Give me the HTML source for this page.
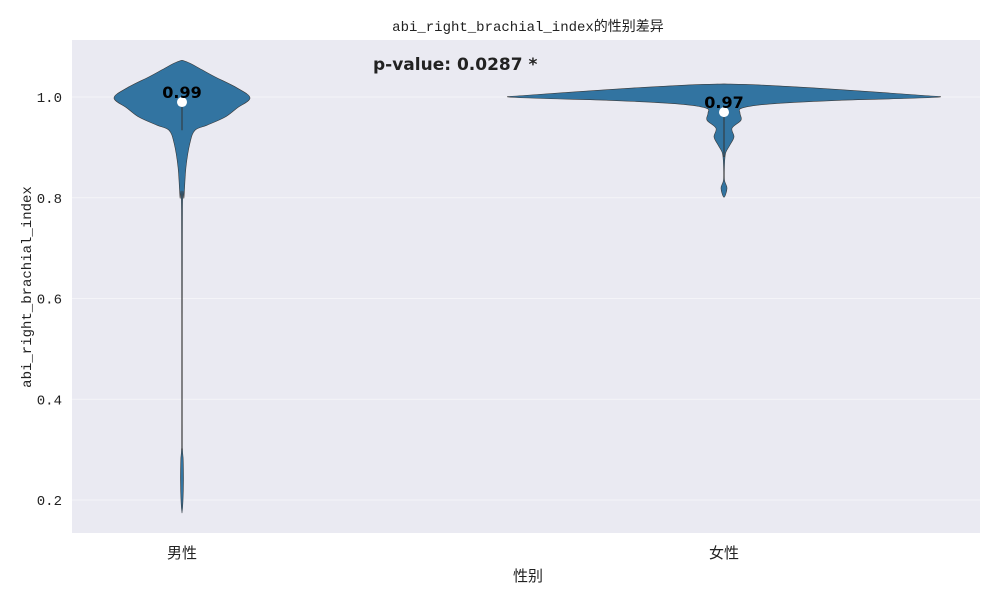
<!DOCTYPE html>
<html><head><meta charset="utf-8"><style>
body{margin:0;background:#fff;font-family:"Liberation Sans","Noto Sans CJK SC",sans-serif}
svg text{font-family:"WenQuanYi Zen Hei Mono","WenQuanYi Zen Hei","Liberation Mono",monospace}
svg text.bold{font-family:"DejaVu Sans",sans-serif}
</style></head><body>
<svg id="chart" width="1000" height="600" xmlns="http://www.w3.org/2000/svg">
<rect x="72" y="40" width="908" height="493" fill="#eaeaf2"/>
<g id="grid"></g><g id="violins"></g><g id="labels"></g>
<text x="528" y="31" text-anchor="middle" font-size="14" fill="#222">abi_right_brachial_index的性别差异</text>
<text class="bold" x="373" y="70" font-size="17" font-weight="bold" fill="#222">p-value: 0.0287 *</text>
<text x="528" y="581" text-anchor="middle" font-size="15" fill="#222">性别</text>
<text transform="translate(31,287) rotate(-90)" text-anchor="middle" font-size="14" fill="#222">abi_right_brachial_index</text>
</svg>
<script>
const categories=["男性","女性"];
const medians=[0.99,0.97];
const whiskerLow=[0.934,0.881];
const yTicks=[0.2,0.4,0.6,0.8,1.0];
const maleVals=[1.073,1.067,1.054,1.040,1.018,0.998,0.978,0.960,0.944,0.934,0.909,0.861,0.801,0.776,0.35,0.30,0.28,0.24,0.20,0.174];
const maleWidth=[0,8,20,33,55,68,55,43,25,13,8,4,2,0.5,0.3,0.5,1.2,1.5,1,0];
const femaleVals=[1.026,1.024,1.018,1.010,1.003,1.000,0.997,0.993,0.986,0.978,0.968,0.954,0.938,0.921,0.905,0.891,0.881,0.865,0.835,0.819,0.801];
const femaleWidth=[0,35,90,150,200,216,180,110,45,18,16,17,8,10,6,2,1,0.5,0.5,3,0];
const profVals=[maleVals,femaleVals],profW=[maleWidth,femaleWidth];
const xPos=i=>182+i*542;
const y=v=>97+(1-v)*503.75;
const NS="http://www.w3.org/2000/svg";
function mk(t,a,p){const e=document.createElementNS(NS,t);for(const k in a)e.setAttribute(k,a[k]);p.appendChild(e);return e;}
function smooth(pts){let d='M'+pts[0][0]+','+pts[0][1];
 for(let i=0;i<pts.length-1;i++){const p0=pts[Math.max(i-1,0)],p1=pts[i],p2=pts[i+1],p3=pts[Math.min(i+2,pts.length-1)];
 const c1=[p1[0]+(p2[0]-p0[0])/6,p1[1]+(p2[1]-p0[1])/6],c2=[p2[0]-(p3[0]-p1[0])/6,p2[1]-(p3[1]-p1[1])/6];
 d+='C'+c1+' '+c2+' '+p2;}return d;}
const grid=document.getElementById('grid'),vg=document.getElementById('violins'),lg=document.getElementById('labels');
yTicks.forEach(t=>{
 const l=mk('line',{x1:72,x2:980,y1:y(t),y2:y(t),stroke:'#f4f4f8','stroke-width':1},grid);
 
 
 const tx=mk('text',{x:62,y:y(t)+5,'text-anchor':'end','font-size':14,fill:'#222'},lg);
 tx.textContent=t.toFixed(1);
 
 
});
categories.forEach((c,i)=>{
 const cx=xPos(i),vs=profVals[i],ws=profW[i];
 const pts=[];
 vs.forEach((v,j)=>pts.push([cx+ws[j],y(v)]));
 for(let j=vs.length-2;j>=0;j--)pts.push([cx-ws[j],y(vs[j])]);
 const p=mk('path',{d:smooth(pts)+'Z',fill:'#3274a1',stroke:'#3a3a3a','stroke-width':0.6,'stroke-linejoin':'round'},vg);
 
 
 const w=mk('line',{x1:cx,x2:cx,y1:y(medians[i]),y2:y(whiskerLow[i]),stroke:'#333','stroke-width':1},vg);
 
 
 const m=mk('circle',{cx:cx,cy:y(medians[i]),r:5,fill:'#fff'},vg);
 
 
 const ml=mk('text',{class:'bold',x:cx,y:y(medians[i])-4,'text-anchor':'middle','font-size':16,'font-weight':'bold',fill:'#000'},lg);
 ml.textContent=medians[i].toFixed(2);
 
 
 const xl=mk('text',{x:cx,y:558,'text-anchor':'middle','font-size':15,fill:'#222'},lg);
 xl.textContent=c;
 
 
});
</script>
</body></html>
